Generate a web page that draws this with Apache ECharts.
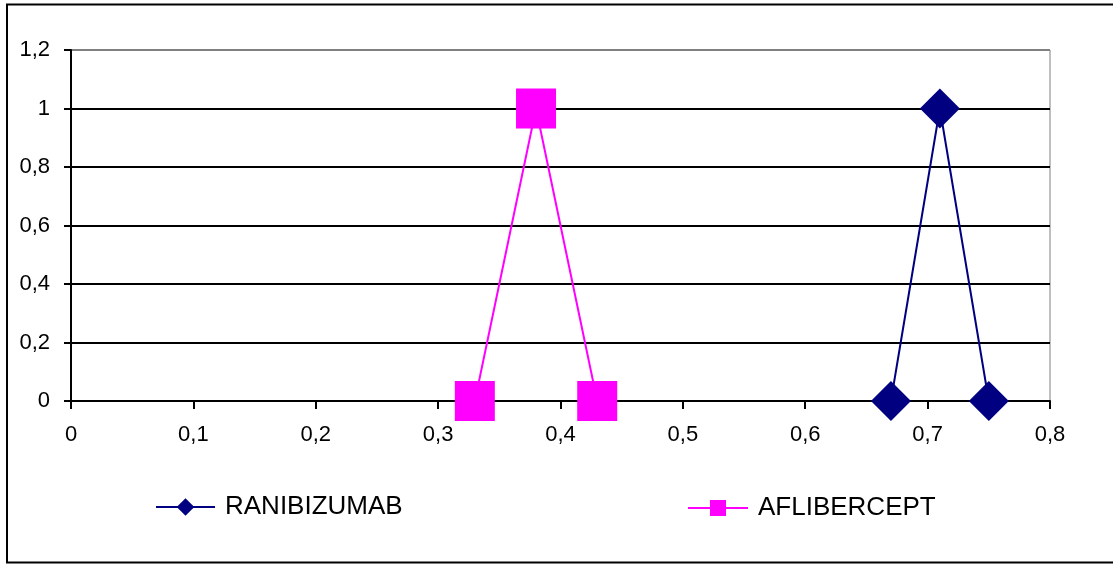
<!DOCTYPE html>
<html>
<head>
<meta charset="utf-8">
<script src="https://cdn.jsdelivr.net/npm/echarts@6/dist/echarts.min.js"></script>
<style>
  html, body { margin: 0; padding: 0; background: #fff; }
  #chart { width: 1113px; height: 565px; }
</style>
</head>
<body>
<div id="chart"></div>
<script>
// Series values (x = proportion, y = frequency)
const ranibizumabX = [0.67, 0.71, 0.75];
const ranibizumabY = [0, 1, 0];
const afliberceptX = [0.33, 0.38, 0.43];
const afliberceptY = [0, 1, 0];
const seriesNames = ['RANIBIZUMAB', 'AFLIBERCEPT'];

const FONT = '"Liberation Sans", Arial, sans-serif';
const fmt = v => String(+(+v).toFixed(2)).replace('.', ',');
const pairs = (xs, ys) => xs.map((x, i) => [x, ys[i]]);

const legendText = { fontSize: 26, color: '#000', fontFamily: FONT, padding: [0, 0, 0, 5] };

const chart = echarts.init(document.getElementById('chart'), null, { renderer: 'canvas' });
chart.setOption({
  animation: false,
  backgroundColor: '#fff',
  textStyle: { fontFamily: FONT },
  graphic: [{
    type: 'rect',
    shape: { x: 7, y: 4.5, width: 1120, height: 558 },
    style: { fill: 'none', stroke: '#000', lineWidth: 2 },
    silent: true, z: 100
  }],
  grid: {
    left: 71, right: 63, top: 50, bottom: 164,
    show: true, borderColor: '#808080', borderWidth: 1
  },
  legend: [
    {
      data: [seriesNames[0]], left: 155, top: 494, padding: 0,
      itemWidth: 59, itemHeight: 22, itemGap: 0,
      textStyle: legendText
    },
    {
      data: [seriesNames[1]], left: 687, top: 495, padding: 0,
      itemWidth: 60, itemHeight: 20, itemGap: 0,
      textStyle: legendText
    }
  ],
  xAxis: {
    type: 'value', min: 0, max: 0.8, interval: 0.1,
    axisLine: { show: true, onZero: false, lineStyle: { color: '#000', width: 2 } },
    axisTick: { show: true, length: 8, lineStyle: { color: '#000', width: 2 } },
    axisLabel: { formatter: fmt, fontSize: 22, color: '#000', margin: 23, fontFamily: FONT },
    splitLine: { show: false }
  },
  yAxis: {
    type: 'value', min: 0, max: 1.2, interval: 0.2,
    axisLine: { show: true, lineStyle: { color: '#000', width: 2 } },
    axisTick: { show: true, length: 7, lineStyle: { color: '#000', width: 2 } },
    axisLabel: { formatter: fmt, fontSize: 22, color: '#000', margin: 21, fontFamily: FONT },
    splitLine: {
      show: true,
      lineStyle: { color: ['#000', '#000', '#000', '#000', '#000', '#000', '#808080'], width: 2 }
    }
  },
  series: [
    {
      name: seriesNames[0], type: 'line',
      data: pairs(ranibizumabX, ranibizumabY),
      symbol: 'diamond', symbolSize: 40,
      color: '#000080',
      lineStyle: { color: '#000080', width: 2 },
      itemStyle: { color: '#000080' },
      z: 3
    },
    {
      name: seriesNames[1], type: 'line',
      data: pairs(afliberceptX, afliberceptY),
      symbol: 'rect', symbolSize: 40,
      color: '#FF00FF',
      lineStyle: { color: '#FF00FF', width: 2 },
      itemStyle: { color: '#FF00FF' },
      z: 3
    }
  ]
});
</script>
</body>
</html>
